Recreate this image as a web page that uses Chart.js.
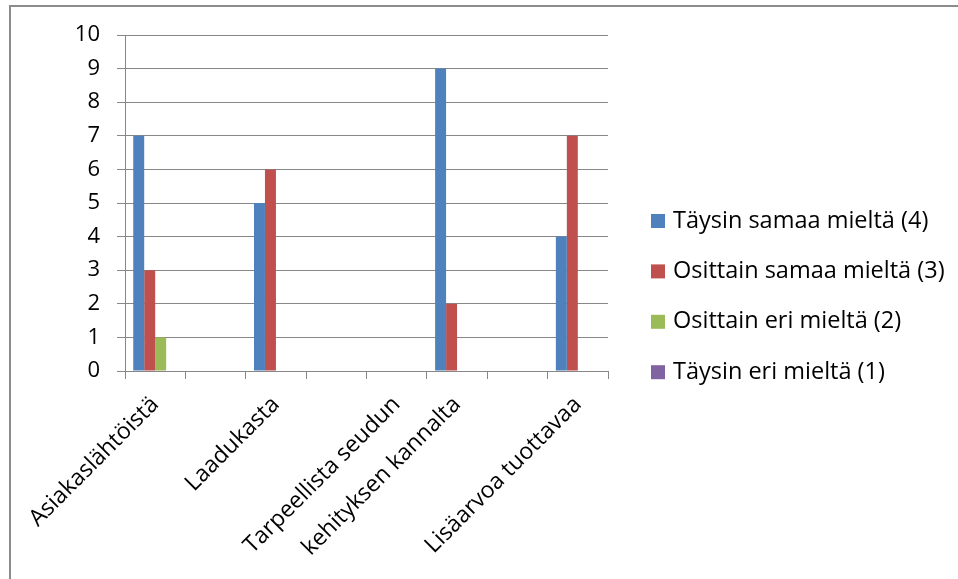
<!DOCTYPE html>
<html>
<head>
<meta charset="utf-8">
<script src="https://cdn.jsdelivr.net/npm/chart.js@4"></script>
<style>
  html, body { margin: 0; padding: 0; background: #fff; }
  #wrap { width: 958px; height: 579px; }
</style>
</head>
<body>
<div id="wrap"><canvas id="kaavio" width="958" height="579"></canvas></div>
<script>
const kategoriat = ['Asiakaslähtöistä', '', 'Laadukasta', '', 'Tarpeellista seudun', 'kehityksen kannalta', '', 'Lisäarvoa tuottavaa'];

const taysinSamaa = [7, null, 5, null, 0, 9, null, 4];
const osittainSamaa = [3, null, 6, null, 0, 2, null, 7];
const osittainEri = [1, null, 0, null, 0, 0, null, 0];
const taysinEri = [0, null, 0, null, 0, 0, null, 0];

const sarjat = ['Täysin samaa mieltä (4)', 'Osittain samaa mieltä (3)', 'Osittain eri mieltä (2)', 'Täysin eri mieltä (1)'];
const varit = ['#4F81BD', '#C0504D', '#9BBB59', '#8064A2'];
const yTikit = [0, 1, 2, 3, 4, 5, 6, 7, 8, 9, 10];

const fontti = '"Open Sans", "Noto Sans", sans-serif';
const harmaa = '#878787';

// valkoinen tausta ja kehys vasemmalle ja ylös
const kehys = {
  id: 'kehys',
  beforeDraw(chart) {
    const c = chart.ctx;
    c.save();
    c.fillStyle = '#fff';
    c.fillRect(0, 0, chart.width, chart.height);
    c.strokeStyle = '#8c8c8c';
    c.lineWidth = 2;
    c.beginPath();
    c.moveTo(10, chart.height);
    c.lineTo(10, 6);
    c.lineTo(chart.width, 6);
    c.stroke();
    c.restore();
  }
};

// selite oikealle puolelle
const selite = {
  id: 'selite',
  afterDraw(chart) {
    const c = chart.ctx;
    c.save();
    c.font = '23.5px ' + fontti;
    c.textBaseline = 'middle';
    c.textAlign = 'left';
    chart.data.datasets.forEach((ds, i) => {
      const y = 221 + 50.4 * i;
      c.fillStyle = ds.backgroundColor;
      c.fillRect(651, y - 7, 14, 14);
      c.fillStyle = '#000';
      c.fillText(ds.label, 673, y);
    });
    c.restore();
  }
};

const ctx = document.getElementById('kaavio').getContext('2d');
new Chart(ctx, {
  type: 'bar',
  data: {
    labels: kategoriat,
    datasets: [taysinSamaa, osittainSamaa, osittainEri, taysinEri].map((d, i) => ({
      label: sarjat[i],
      data: d,
      backgroundColor: varit[i],
      borderWidth: 0,
      categoryPercentage: 4 / 5.5,
      barPercentage: 1
    }))
  },
  options: {
    responsive: false,
    animation: false,
    layout: { padding: { left: 10, top: 35, right: 350, bottom: 0 } },
    plugins: { legend: { display: false }, tooltip: { enabled: false } },
    scales: {
      x: {
        grid: { drawOnChartArea: false, drawTicks: true, tickLength: 8, color: harmaa, offset: true },
        border: { color: harmaa, width: 1 },
        ticks: {
          autoSkip: false,
          maxRotation: 45,
          minRotation: 45,
          padding: 12,
          color: '#000',
          font: { family: fontti, size: 23 }
        },
        afterFit(scale) { scale.height = 208; }
      },
      y: {
        min: 0,
        max: 10,
        afterBuildTicks(scale) { scale.ticks = yTikit.map(v => ({ value: v })); },
        grid: { color: harmaa, tickLength: 8, lineWidth: 1 },
        border: { color: harmaa, width: 1 },
        ticks: {
          padding: 17,
          color: '#000',
          font: { family: fontti, size: 22 }
        },
        afterFit(scale) { scale.width = 115; }
      }
    }
  },
  plugins: [kehys, selite]
});
</script>
</body>
</html>
